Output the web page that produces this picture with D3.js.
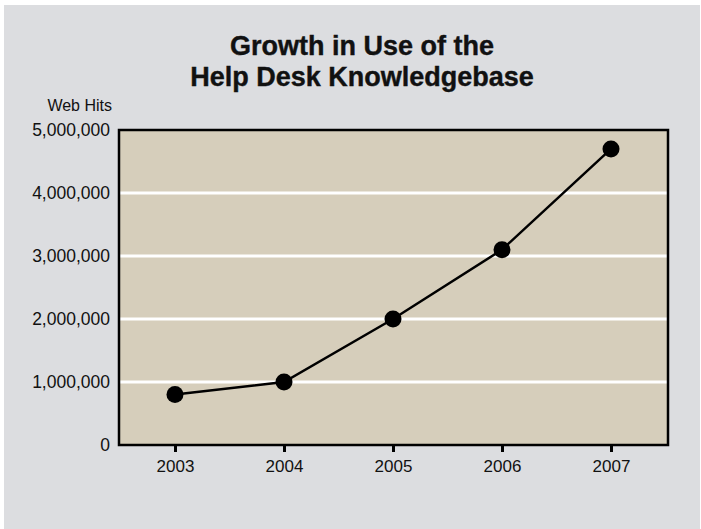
<!DOCTYPE html>
<html>
<head>
<meta charset="utf-8">
<script src="https://cdn.jsdelivr.net/npm/d3@7"></script>
<style>
  body { margin: 0; background: #fff; }
  text { font-family: "Liberation Sans", Arial, sans-serif; fill: #111; }
</style>
</head>
<body>
<div id="chart"></div>
<script>
  var years = ['2003', '2004', '2005', '2006', '2007'];
  var hits = [800000, 1000000, 2000000, 3100000, 4700000];
  var yTicks = [0, 1000000, 2000000, 3000000, 4000000, 5000000];
  var titleLines = ['Growth in Use of the', 'Help Desk Knowledgebase'];

  var W = 701, H = 529;
  var margin = { top: 130, left: 119, bottom: 84, right: 33 },
    width = W - margin.left - margin.right,
    height = H - margin.top - margin.bottom;

  var root = d3.select('#chart').append('svg')
    .attr('width', W)
    .attr('height', H);

  // grey panel with thin white edge
  root.append('rect')
    .attr('x', 4).attr('y', 5)
    .attr('width', W - 5).attr('height', H - 5)
    .attr('fill', '#dcdde0');

  root.selectAll('.title')
    .data(titleLines)
    .enter()
    .append('text')
    .attr('class', 'title')
    .attr('x', 362)
    .attr('y', (d, i) => 55 + i * 31)
    .attr('text-anchor', 'middle')
    .style('font-size', '27px')
    .style('font-weight', 'bold')
    .style('stroke', '#111')
    .style('stroke-width', 0.4)
    .text(d => d);

  root.append('text')
    .attr('x', 112)
    .attr('y', 111)
    .attr('text-anchor', 'end')
    .style('font-size', '16px')
    .text('Web Hits');

  var svg = root.append('g')
    .attr('transform', 'translate(' + margin.left + ', ' + margin.top + ')');

  var x = d3.scalePoint()
    .domain(years)
    .range([56, 492]);

  var y = d3.scaleLinear()
    .domain([0, 5000000])
    .range([height, 0]);

  svg.append('rect')
    .attr('width', width)
    .attr('height', height)
    .attr('fill', '#d6cebb');

  // white gridlines
  svg.selectAll('.grid')
    .data(yTicks.slice(1, -1))
    .enter()
    .append('line')
    .attr('class', 'grid')
    .attr('x1', 1).attr('x2', width - 1)
    .attr('y1', d => y(d)).attr('y2', d => y(d))
    .attr('stroke', '#fff')
    .attr('stroke-width', 3);

  var yAxis = d3.axisLeft(y)
    .tickValues(yTicks)
    .tickSize(0)
    .tickPadding(9)
    .tickFormat(d3.format(','));

  svg.append('g')
    .attr('class', 'axis')
    .call(yAxis)
    .call(g => g.select('.domain').remove())
    .selectAll('text')
    .style('font-size', '17.5px')
    .attr('fill', '#111');

  var xAxis = d3.axisBottom(x)
    .tickSize(7)
    .tickPadding(8);

  svg.append('g')
    .attr('class', 'axis')
    .attr('transform', 'translate(0,' + height + ')')
    .call(xAxis)
    .call(g => g.select('.domain').remove())
    .call(g => g.selectAll('.tick line').attr('stroke', '#000').attr('stroke-width', 3))
    .selectAll('text')
    .style('font-size', '17px')
    .attr('fill', '#111');

  svg.append('rect')
    .attr('width', width)
    .attr('height', height)
    .attr('fill', 'none')
    .attr('stroke', '#000')
    .attr('stroke-width', 2.5);

  var line = d3.line()
    .x((d, i) => x(years[i]))
    .y(d => y(d));

  svg.append('path')
    .datum(hits)
    .attr('d', line)
    .attr('fill', 'none')
    .attr('stroke', '#000')
    .attr('stroke-width', 2.5);

  svg.selectAll('.dot')
    .data(hits)
    .enter()
    .append('circle')
    .attr('class', 'dot')
    .attr('cx', (d, i) => x(years[i]))
    .attr('cy', d => y(d))
    .attr('r', 8.5)
    .attr('fill', '#000');
</script>
</body>
</html>
